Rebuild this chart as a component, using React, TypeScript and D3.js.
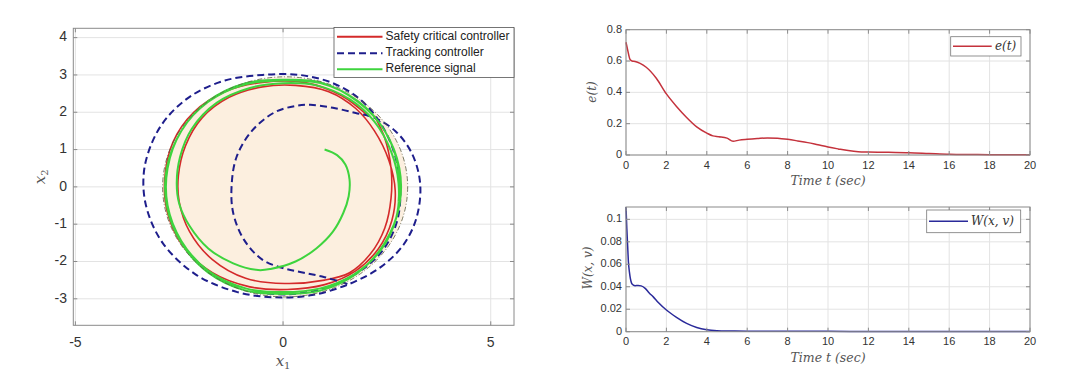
import React from "react";
import * as d3 from "d3";

// ---------- data ----------
const safeCenter: [number, number] = [0.05, 0];
const safeRadius = 2.95;

const safetyTraj: [number, number][] = [
  [2.2, 1.9], [2.45, 1.3], [2.6, 0.5], [2.6, -0.3], [2.45, -1.1], [2.1, -1.8], [1.6, -2.3], [1.0, -2.5],
  [0.04, -2.59], [-0.9, -2.45], [-1.7, -1.95], [-2.25, -1.2], [-2.5, -0.4], [-2.52, 0.3], [-2.35, 1.1],
  [-1.95, 1.85], [-1.3, 2.4], [-0.5, 2.68], [0.3, 2.72], [1.1, 2.55], [1.75, 2.1], [2.2, 1.5], [2.55, 0.7],
  [2.7, -0.1], [2.62, -0.9], [2.3, -1.65], [1.75, -2.25], [1.0, -2.62], [0.1, -2.75], [-0.8, -2.68],
  [-1.7, -2.3], [-2.4, -1.6], [-2.78, -0.7], [-2.85, 0.2], [-2.65, 1.2], [-2.15, 2.0], [-1.4, 2.55],
  [-0.5, 2.8], [0.5, 2.8], [1.4, 2.45], [2.05, 1.9],
];

const trackingTraj: [number, number][] = [
  [1.55, -2.6], [1.0, -2.42], [0.5, -2.3], [0.04, -2.19], [-0.5, -1.95], [-0.95, -1.4], [-1.2, -0.7],
  [-1.24, 0], [-1.12, 0.8], [-0.75, 1.5], [-0.2, 2.0], [0.3, 2.17], [0.66, 2.2], [1.2, 2.12], [1.75, 1.98],
  [2.2, 1.85], [2.7, 1.5], [3.1, 0.9], [3.3, 0.1], [3.22, -0.8], [2.9, -1.55], [2.35, -2.15], [1.6, -2.6],
  [0.7, -2.9], [-0.2, -2.96], [-1.1, -2.82], [-2.1, -2.35], [-2.9, -1.5], [-3.3, -0.5], [-3.35, 0.4],
  [-3.15, 1.2], [-2.8, 1.85], [-2.2, 2.45], [-1.4, 2.85], [-0.5, 3.0], [0.4, 3.0], [1.2, 2.78],
  [1.85, 2.35], [2.35, 1.7], [2.68, 0.9], [2.82, 0], [2.75, -0.9], [2.4, -1.7], [1.8, -2.3], [1.0, -2.72],
  [0.1, -2.88], [-0.7, -2.82],
];

const referenceTraj: [number, number][] = [
  [1.0, 1.0], [1.3, 0.85], [1.5, 0.6], [1.6, 0.2], [1.58, -0.25], [1.45, -0.7], [1.2, -1.2], [0.8, -1.65],
  [0.3, -2.0], [-0.3, -2.2], [-0.6, -2.23], [-1.2, -2.05], [-1.8, -1.65], [-2.25, -1.05], [-2.5, -0.45],
  [-2.56, 0.1], [-2.48, 0.8], [-2.2, 1.55], [-1.6, 2.25], [-0.8, 2.65], [0, 2.78], [0.8, 2.72], [1.6, 2.35],
  [2.2, 1.75], [2.6, 0.95], [2.78, 0.1], [2.72, -0.85], [2.35, -1.7], [1.7, -2.35], [0.9, -2.72], [0, -2.82],
  [-0.9, -2.72], [-1.8, -2.25], [-2.45, -1.45], [-2.78, -0.5], [-2.78, 0.5], [-2.45, 1.5], [-1.8, 2.28],
  [-0.9, 2.75], [0, 2.85], [0.9, 2.78], [1.8, 2.3], [2.45, 1.5], [2.8, 0.5], [2.8, -0.5], [2.45, -1.5],
  [1.8, -2.3], [0.9, -2.78], [0, -2.87], [-0.9, -2.78], [-1.8, -2.3], [-2.45, -1.5], [-2.8, -0.5],
  [-2.8, 0.5], [-2.45, 1.5], [-1.8, 2.3], [-0.9, 2.78], [0, 2.87], [0.9, 2.8], [1.8, 2.28], [2.45, 1.5],
  [2.78, 0.5], [2.78, -0.4],
];

const phaseXTicks = [-5, 0, 5];
const phaseYTicks = [-3, -2, -1, 0, 1, 2, 3, 4];
const phaseXDomain: [number, number] = [-5.05, 5.56];
const phaseYDomain: [number, number] = [-3.71, 4.25];

const errT = [0, 0.1, 0.2, 0.3, 0.45, 0.7, 1.0, 1.5, 2, 2.5, 3, 3.5, 4, 4.3, 4.6, 5, 5.3, 5.6, 6, 6.5, 7, 7.5, 8, 8.5, 9, 9.5, 10, 10.5, 11, 11.5, 12, 13, 14, 15, 16, 17, 18, 19, 20];
const errV = [0.72, 0.66, 0.61, 0.6, 0.597, 0.585, 0.56, 0.49, 0.39, 0.31, 0.24, 0.18, 0.14, 0.122, 0.117, 0.108, 0.088, 0.095, 0.1, 0.105, 0.109, 0.107, 0.1, 0.09, 0.079, 0.065, 0.051, 0.039, 0.028, 0.021, 0.019, 0.017, 0.015, 0.01, 0.005, 0.003, 0.002, 0.0015, 0.001];

const wT = [0, 0.04, 0.08, 0.12, 0.17, 0.22, 0.28, 0.36, 0.45, 0.6, 0.75, 0.95, 1.15, 1.35, 1.6, 2, 2.5, 3, 3.5, 4, 4.5, 5, 6, 8, 10, 12, 16, 20];
const wV = [0.111, 0.092, 0.077, 0.062, 0.053, 0.047, 0.043, 0.0415, 0.041, 0.0412, 0.0408, 0.0386, 0.0345, 0.031, 0.026, 0.0193, 0.0128, 0.0074, 0.0038, 0.0018, 0.0009, 0.0006, 0.0005, 0.0005, 0.0004, 0.0002, 0.0001, 0.0001];

const timeTicks = [0, 2, 4, 6, 8, 10, 12, 14, 16, 18, 20];
const errYTicks = [0, 0.2, 0.4, 0.6, 0.8];
const wYTicks = [0, 0.02, 0.04, 0.06, 0.08, 0.1];

const legendLabels = ["Safety critical controller", "Tracking controller", "Reference signal"];

// ---------- styles ----------
const AX = "#8a8a8a";
const GRID = "#e3e3e3";
const TXT = "#333333";
const SANS = "'Liberation Sans', Arial, sans-serif";
const SERIF = "'DejaVu Serif', 'Liberation Serif', serif";
const RED = "#d42a2a";
const BLUE = "#1e1e8c";
const GREEN = "#3ed43e";

function Grid({ x, y, xt, yt }: any) {
  const [x0, x1] = x.range();
  const [y0, y1] = y.range();
  return (
    <g>
      {xt.map((t: number) => (
        <line key={"gx" + t} x1={x(t)} x2={x(t)} y1={y0} y2={y1} stroke={GRID} strokeWidth={1} />
      ))}
      {yt.map((t: number) => (
        <line key={"gy" + t} x1={x0} x2={x1} y1={y(t)} y2={y(t)} stroke={GRID} strokeWidth={1} />
      ))}
    </g>
  );
}

function Frame({ x, y, xt, yt, fs, xLabY, yLabX, fmt }: any) {
  const [x0, x1] = x.range();
  const [y0, y1] = y.range();
  const tl = 4;
  return (
    <g>
      <rect x={x0} y={y1} width={x1 - x0} height={y0 - y1} fill="none" stroke={AX} strokeWidth={1} />
      {xt.map((t: number) => (
        <g key={"tx" + t}>
          <line x1={x(t)} x2={x(t)} y1={y0} y2={y0 - tl} stroke={AX} />
          <line x1={x(t)} x2={x(t)} y1={y1} y2={y1 + tl} stroke={AX} />
          <text x={x(t)} y={xLabY} textAnchor="middle" dominantBaseline="middle" fontFamily={SANS} fontSize={fs} fill={TXT}>
            {fmt ? fmt(t) : String(t)}
          </text>
        </g>
      ))}
      {yt.map((t: number) => (
        <g key={"ty" + t}>
          <line x1={x0} x2={x0 + tl} y1={y(t)} y2={y(t)} stroke={AX} />
          <line x1={x1} x2={x1 - tl} y1={y(t)} y2={y(t)} stroke={AX} />
          <text x={yLabX} y={y(t)} textAnchor="end" dominantBaseline="middle" fontFamily={SANS} fontSize={fs} fill={TXT}>
            {fmt ? fmt(t) : String(t)}
          </text>
        </g>
      ))}
    </g>
  );
}

export default function App() {
  // phase plot
  const px = d3.scaleLinear().domain(phaseXDomain).range([73.3, 514]);
  const py = d3.scaleLinear().domain(phaseYDomain).range([325.3, 28.3]);
  const pline = d3
    .line<[number, number]>()
    .x((d) => px(d[0]))
    .y((d) => py(d[1]))
    .curve(d3.curveCatmullRom.alpha(0.5));

  // error plot
  const ex = d3.scaleLinear().domain([0, 20]).range([626, 1030]);
  const ey = d3.scaleLinear().domain([0, 0.8]).range([155, 29.7]);
  const eline = d3
    .line<number>()
    .x((_, i) => ex(errT[i]))
    .y((d) => ey(d))
    .curve(d3.curveMonotoneX);

  // W plot
  const wx = d3.scaleLinear().domain([0, 20]).range([626, 1030]);
  const wy = d3.scaleLinear().domain([0, 0.111]).range([331.7, 207]);
  const wline = d3
    .line<number>()
    .x((_, i) => wx(wT[i]))
    .y((d) => wy(d))
    .curve(d3.curveMonotoneX);

  const fmtNum = (v: number) => String(+v.toFixed(3));

  const cx = px(safeCenter[0]);
  const cy = py(safeCenter[1]);
  const rx = px(safeCenter[0] + safeRadius) - cx;
  const ry = cy - py(safeCenter[1] + safeRadius);

  const legY = [36.7, 53.3, 69.3];
  const legStyles = [
    { stroke: RED, dash: undefined },
    { stroke: BLUE, dash: "7,4" },
    { stroke: GREEN, dash: undefined },
  ];

  return (
    <svg width={1080} height={375} style={{ position: "absolute", left: 0, top: 0, background: "#fff" }}>
      <rect x={0} y={0} width={1080} height={375} fill="#fff" />
      {/* ---------- phase portrait ---------- */}
      <Grid x={px} y={py} xt={phaseXTicks} yt={phaseYTicks} />
      <ellipse cx={cx} cy={cy} rx={rx} ry={ry} fill="#fcefdf" stroke="none" />
      <path d={pline(safetyTraj) || ""} fill="none" stroke={RED} strokeWidth={1.6} />
      <path d={pline(trackingTraj) || ""} fill="none" stroke={BLUE} strokeWidth={2} strokeDasharray="7,4" />
      <path d={pline(referenceTraj) || ""} fill="none" stroke={GREEN} strokeWidth={2} />
      <ellipse cx={cx} cy={cy} rx={rx} ry={ry} fill="none" stroke="#5c5c40" strokeWidth={0.8} strokeDasharray="5,2,1,2" />
      <Frame x={px} y={py} xt={phaseXTicks} yt={phaseYTicks} fs={14} xLabY={343} yLabX={67} />
      {/* legend */}
      <rect x={334} y={27.5} width={180} height={50} fill="#fff" stroke="#555" strokeWidth={0.8} />
      {legendLabels.map((lab, i) => (
        <g key={lab}>
          <line x1={337} x2={382.5} y1={legY[i]} y2={legY[i]} stroke={legStyles[i].stroke} strokeWidth={2} strokeDasharray={legStyles[i].dash} />
          <text x={385.5} y={legY[i]} dominantBaseline="middle" fontFamily={SANS} fontSize={12} fill="#222">
            {lab}
          </text>
        </g>
      ))}
      <text x={px(0)} y={362} textAnchor="middle" dominantBaseline="middle" fontFamily={SERIF} fontStyle="italic" fontSize={15} fill="#555">
        x<tspan fontStyle="normal" fontSize={10} dy={4}>1</tspan>
      </text>
      <text transform={`translate(41,${(28.3 + 325.3) / 2}) rotate(-90)`} textAnchor="middle" dominantBaseline="middle" fontFamily={SERIF} fontStyle="italic" fontSize={15} fill="#555">
        x<tspan fontStyle="normal" fontSize={10} dy={4}>2</tspan>
      </text>

      {/* ---------- e(t) ---------- */}
      <Grid x={ex} y={ey} xt={timeTicks} yt={errYTicks} />
      <path d={eline(errV) || ""} fill="none" stroke="#c4323c" strokeWidth={1.5} />
      <Frame x={ex} y={ey} xt={timeTicks} yt={errYTicks} fs={11} xLabY={166} yLabX={622} fmt={fmtNum} />
      <rect x={950.7} y={36.7} width={70.3} height={19.3} fill="#fff" stroke="#777" strokeWidth={0.8} />
      <line x1={953} x2={991.7} y1={46.3} y2={46.3} stroke="#c4323c" strokeWidth={1.5} />
      <text x={995} y={46.3} dominantBaseline="middle" fontFamily={SERIF} fontStyle="italic" fontSize={12} fill="#333">e(t)</text>
      <text x={(626 + 1030) / 2} y={181} textAnchor="middle" dominantBaseline="middle" fontFamily={SERIF} fontStyle="italic" fontSize={12.5} fill="#555">
        Time t (sec)
      </text>
      <text transform={`translate(592,92) rotate(-90)`} textAnchor="middle" dominantBaseline="middle" fontFamily={SERIF} fontStyle="italic" fontSize={12} fill="#555">
        e(t)
      </text>

      {/* ---------- W(x,v) ---------- */}
      <Grid x={wx} y={wy} xt={timeTicks} yt={wYTicks} />
      <path d={wline(wV) || ""} fill="none" stroke="#2a2a9a" strokeWidth={1.5} />
      <Frame x={wx} y={wy} xt={timeTicks} yt={wYTicks} fs={11} xLabY={342} yLabX={622} fmt={fmtNum} />
      <rect x={926.7} y={210} width={94} height={22.7} fill="#fff" stroke="#777" strokeWidth={0.8} />
      <line x1={929} x2={968} y1={221.3} y2={221.3} stroke="#2a2a9a" strokeWidth={1.5} />
      <text x={971} y={221.3} dominantBaseline="middle" fontFamily={SERIF} fontStyle="italic" fontSize={12} fill="#333">W(x, v)</text>
      <text x={(626 + 1030) / 2} y={358} textAnchor="middle" dominantBaseline="middle" fontFamily={SERIF} fontStyle="italic" fontSize={12.5} fill="#555">
        Time t (sec)
      </text>
      <text transform={`translate(588,268) rotate(-90)`} textAnchor="middle" dominantBaseline="middle" fontFamily={SERIF} fontStyle="italic" fontSize={12} fill="#555">
        W(x, v)
      </text>
    </svg>
  );
}
